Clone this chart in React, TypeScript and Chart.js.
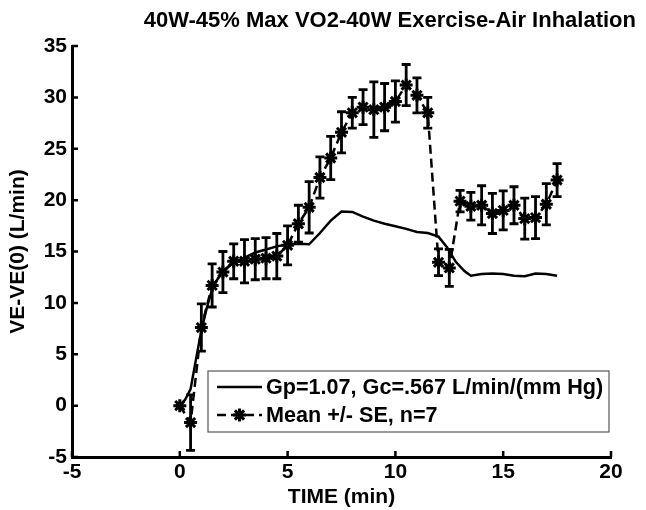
import { useEffect, useRef } from 'react';
import { Chart, registerables } from 'chart.js';

Chart.register(...registerables);

const chartTitle = '40W-45% Max VO2-40W Exercise-Air Inhalation';
const xAxisTitle = 'TIME (min)';
const yAxisTitle = 'VE-VE(0) (L/min)';
const modelLabel = 'Gp=1.07, Gc=.567 L/min/(mm Hg)';
const meanLabel = 'Mean +/- SE, n=7';

const xTickValues = [-5, 0, 5, 10, 15, 20];
const yTickValues = [-5, 0, 5, 10, 15, 20, 25, 30, 35];

const sampleTime = [
  0, 0.5, 1, 1.5, 2, 2.5, 3, 3.5, 4, 4.5, 5, 5.5, 6, 6.5, 7, 7.5, 8, 8.5,
  9, 9.5, 10, 10.5, 11, 11.5, 12, 12.5, 13, 13.5, 14, 14.5, 15, 15.5, 16, 16.5, 17, 17.5,
];
const meanVE = [
  0, -1.65, 7.6, 11.7, 13.0, 14.05, 14.05, 14.25, 14.35, 14.55, 15.6, 17.7, 19.3, 22.2, 24.1, 26.6, 28.5, 29.05,
  28.8, 29.05, 29.6, 31.2, 30.2, 28.5, 13.95, 13.4, 19.9, 19.4, 19.5, 18.7, 19.0, 19.5, 18.2, 18.3, 19.6, 21.95,
];
const seVE = [
  0, 2.7, 2.3, 2.1, 2.0, 1.7, 2.1, 2.0, 2.0, 2.2, 1.9, 1.8, 2.5, 2.0, 2.1, 2.0, 1.5, 1.7,
  2.7, 2.3, 2.0, 2.0, 1.7, 1.5, 1.3, 1.8, 1.05, 1.35, 1.9, 1.95, 1.9, 1.8, 2.0, 2.05, 2.0, 1.6,
];

const modelTime = [
  0, 0.25, 0.5, 0.75, 1, 1.25, 1.5, 1.75, 2, 2.5, 3, 3.5, 4, 4.5, 5, 5.5, 6, 6.5, 7, 7.5, 8,
  8.5, 9, 9.5, 10, 10.5, 11, 11.5, 12, 12.4, 12.8, 13.2, 13.5, 14, 14.5, 15, 15.5, 16, 16.5, 17, 17.5,
];
const modelVE = [
  0, 0.6, 1.6, 4.5, 7.3, 9.5, 11.3, 12.3, 13.1, 13.9, 14.4, 14.9, 15.2, 15.5, 15.7, 15.75, 15.7, 16.8, 18.0, 18.9, 18.85,
  18.4, 18.0, 17.7, 17.45, 17.2, 16.9, 16.8, 16.45, 15.4, 14.0, 13.1, 12.65, 12.8, 12.85, 12.8, 12.65, 12.6, 12.85, 12.8, 12.65,
];

const FONT = "'Liberation Sans', Arial, sans-serif";

function drawStar(ctx: CanvasRenderingContext2D, x: number, y: number, r: number) {
  const d = r * Math.SQRT1_2;
  ctx.beginPath();
  ctx.moveTo(x - r, y);
  ctx.lineTo(x + r, y);
  ctx.moveTo(x, y - r);
  ctx.lineTo(x, y + r);
  ctx.moveTo(x - d, y - d);
  ctx.lineTo(x + d, y + d);
  ctx.moveTo(x - d, y + d);
  ctx.lineTo(x + d, y - d);
  ctx.stroke();
}

const decorPlugin = {
  id: 'decor',
  afterDatasetsDraw(chart: any) {
    const ctx: CanvasRenderingContext2D = chart.ctx;
    const xs = chart.scales.x;
    const ys = chart.scales.y;
    const area = chart.chartArea;
    ctx.save();
    // error bars
    ctx.strokeStyle = '#000';
    ctx.lineWidth = 2.8;
    ctx.setLineDash([]);
    for (let i = 0; i < sampleTime.length; i++) {
      const se = seVE[i];
      if (!se) continue;
      const px = xs.getPixelForValue(sampleTime[i]);
      const top = ys.getPixelForValue(meanVE[i] + se);
      const bot = ys.getPixelForValue(meanVE[i] - se);
      const cap = 4.5;
      ctx.beginPath();
      ctx.moveTo(px, top);
      ctx.lineTo(px, bot);
      ctx.moveTo(px - cap, top);
      ctx.lineTo(px + cap, top);
      ctx.moveTo(px - cap, bot);
      ctx.lineTo(px + cap, bot);
      ctx.stroke();
    }
    // inward ticks
    ctx.lineWidth = 2.5;
    const tl = 6;
    ctx.beginPath();
    for (const v of xTickValues) {
      const px = xs.getPixelForValue(v);
      ctx.moveTo(px, area.bottom);
      ctx.lineTo(px, area.bottom - tl);
    }
    for (const v of yTickValues) {
      const py = ys.getPixelForValue(v);
      ctx.moveTo(area.left, py);
      ctx.lineTo(area.left + tl, py);
    }
    ctx.stroke();

    // legend box
    const right = area.right - 2;
    const bottom = area.bottom - 25;
    const width = 401;
    const height = 61;
    const left = right - width;
    const top = bottom - height;
    ctx.fillStyle = '#fff';
    ctx.fillRect(left, top, width, height);
    ctx.strokeStyle = '#555';
    ctx.lineWidth = 1.2;
    ctx.strokeRect(left, top, width, height);

    const ds = chart.data.datasets;
    const rows = [ds[0], ds[1]];
    const rowY = [top + 16, top + 44];
    ctx.font = `bold 21.6px ${FONT}`;
    ctx.textBaseline = 'middle';
    ctx.textAlign = 'left';
    rows.forEach((d: any, i: number) => {
      const y = rowY[i];
      ctx.strokeStyle = '#000';
      ctx.lineWidth = 2.5;
      ctx.setLineDash(d.borderDash || []);
      ctx.beginPath();
      ctx.moveTo(left + 9, y);
      ctx.lineTo(left + 54, y);
      ctx.stroke();
      ctx.setLineDash([]);
      if (d.pointRadius) {
        ctx.lineWidth = 3;
        drawStar(ctx, left + 31.5, y, 6.5);
      }
      ctx.fillStyle = '#000';
      ctx.fillText(d.label, left + 58, y + 1);
    });
    ctx.restore();
  },
};

export default function App() {
  const canvasRef = useRef<HTMLCanvasElement | null>(null);

  useEffect(() => {
    if (!canvasRef.current) return;
    const chart = new Chart(canvasRef.current, {
      type: 'line',
      data: {
        datasets: [
          {
            label: modelLabel,
            data: modelTime.map((t, i) => ({ x: t, y: modelVE[i] })),
            borderColor: '#000',
            borderWidth: 2.5,
            pointRadius: 0,
            tension: 0,
            fill: false,
            order: 2,
          },
          {
            label: meanLabel,
            data: sampleTime.map((t, i) => ({ x: t, y: meanVE[i] })),
            borderColor: '#000',
            backgroundColor: '#000',
            borderWidth: 2.5,
            borderDash: [9, 5],
            pointStyle: 'star',
            pointRadius: 6.5,
            pointBorderWidth: 3,
            pointBorderColor: '#000',
            tension: 0,
            fill: false,
            order: 1,
          },
        ] as any,
      },
      options: {
        animation: false,
        responsive: true,
        maintainAspectRatio: false,
        layout: { padding: { left: 0, right: 10, top: 0, bottom: 0 } },
        plugins: {
          legend: { display: false },
          tooltip: { enabled: false },
          title: {
            display: true,
            text: chartTitle,
            align: 'end',
            color: '#000',
            font: { family: FONT, size: 22, weight: 'bold', lineHeight: 1.2 },
            padding: { top: 8, bottom: 11.6 },
          },
        },
        scales: {
          x: {
            type: 'linear',
            min: -5,
            max: 20,
            grid: { display: false, drawTicks: false },
            border: { display: true, color: '#000', width: 3 },
            ticks: {
              stepSize: 5,
              color: '#000',
              padding: 3,
              font: { family: FONT, size: 21, weight: 'bold' },
            },
            title: {
              display: true,
              text: xAxisTitle,
              color: '#000',
              font: { family: FONT, size: 21, weight: 'bold', lineHeight: 1.2 },
              padding: { top: 0, bottom: 0 },
            },
            afterFit: (s: any) => {
              s.height = 53;
            },
          },
          y: {
            type: 'linear',
            min: -5,
            max: 35,
            grid: { display: false, drawTicks: false },
            border: { display: true, color: '#000', width: 3 },
            ticks: {
              stepSize: 5,
              color: '#000',
              padding: 5,
              font: { family: FONT, size: 21, weight: 'bold' },
            },
            title: {
              display: true,
              text: yAxisTitle,
              color: '#000',
              font: { family: FONT, size: 21, weight: 'bold', lineHeight: 1.2 },
              padding: { top: 6, bottom: 0 },
            },
            afterFit: (s: any) => {
              s.width = 72;
            },
          },
          yRight: {
            type: 'linear',
            position: 'right',
            display: true,
            grid: { display: false, drawTicks: false },
            border: { display: false },
            ticks: { display: false },
            afterFit: (s: any) => {
              s.width = 25;
            },
          },
        },
      } as any,
      plugins: [decorPlugin],
    });
    return () => chart.destroy();
  }, []);

  return (
    <div style={{ position: 'fixed', left: 0, top: 0, width: 646, height: 510, background: '#fff' }}>
      <canvas ref={canvasRef} />
    </div>
  );
}
